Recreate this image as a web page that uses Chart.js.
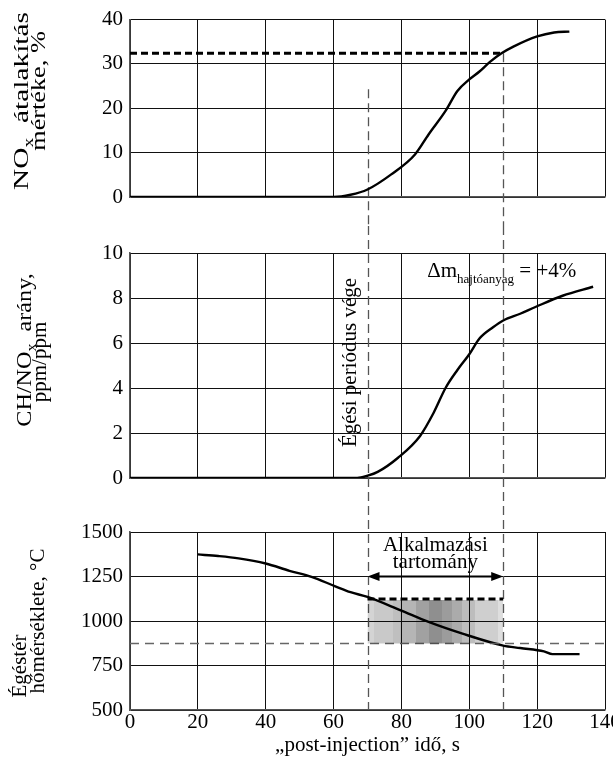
<!DOCTYPE html>
<html>
<head>
<meta charset="utf-8">
<script src="https://cdn.jsdelivr.net/npm/chart.js@4"></script>
<style>
  html, body { margin: 0; padding: 0; background: #fff; overflow: hidden; width: 613px; height: 764px; }
  #wrap { position: relative; width: 613px; height: 764px; overflow: hidden; }
  canvas { position: absolute; left: 0; }
</style>
</head>
<body>
<div id="wrap">
  <canvas id="nox" width="640" height="226" style="top:0"></canvas>
  <canvas id="ratio" width="640" height="280" style="top:226px"></canvas>
  <canvas id="temp" width="640" height="258" style="top:506px"></canvas>
</div>
<script>
// shared x axis
var timeTicks = [0, 20, 40, 60, 80, 100, 120, 140];
var combustionEnd = 70;      // "Égési periódus vége"
var rangeEnd = 110;          // end of "Alkalmazási tartomány"

// NOx conversion, %
var noxTicks = [0, 10, 20, 30, 40];
var noxTime = [0, 60, 65, 70, 77, 84, 88, 93, 96.5, 100, 103, 106, 109.5, 113, 120, 125, 129.5];
var noxConv = [0, 0, 0.5, 1.7, 5.1, 9.6, 14.1, 19.4, 23.9, 26.5, 28.3, 30.4, 32.4, 33.9, 36.2, 37.1, 37.3];
var noxTarget = 32.4;
var noxGuideTop = 24.3;

// CH/NOx ratio, ppm/ppm
var ratioTicks = [0, 2, 4, 6, 8, 10];
var ratioTime = [0, 67, 70, 73, 79, 85.5, 89.5, 93, 96.5, 100, 103, 107, 110, 115, 119.5, 127.5, 136.5];
var ratioVal = [0, 0, 0.1, 0.27, 0.9, 1.87, 2.9, 4.0, 4.8, 5.5, 6.2, 6.7, 7.0, 7.3, 7.6, 8.1, 8.5];

// combustion chamber temperature, °C
var tempTicks = [500, 750, 1000, 1250, 1500];
var tempTime = [20, 26, 32, 40, 47, 53.5, 60.5, 65, 70, 80, 88, 98, 110, 115, 122, 124.5, 132.5];
var tempVal = [1374, 1365, 1352, 1323, 1282, 1248, 1195, 1162, 1135, 1058, 995, 929, 862, 848, 829, 814, 814];
var windowTop = 1124;
var windowLow = 873;
var arrowLevel = 1250;

var SERIF = '"Liberation Serif", "Times New Roman", serif';

function pts(xs, ys) {
  return xs.map(function (x, i) { return { x: x, y: ys[i] }; });
}

// parts: [text, size, baseline shift]; stretch widens the text along its direction
function richText(ctx, parts, x, y, rotated, stretch) {
  ctx.save();
  ctx.translate(x, y);
  if (rotated) ctx.rotate(-Math.PI / 2);
  if (stretch) ctx.scale(stretch, 1);
  ctx.textBaseline = 'alphabetic';
  ctx.textAlign = 'left';
  ctx.fillStyle = '#000';
  var total = 0;
  parts.forEach(function (p) {
    ctx.font = p[1] + 'px ' + SERIF;
    total += ctx.measureText(p[0]).width;
  });
  var cur = -total / 2;
  parts.forEach(function (p) {
    ctx.font = p[1] + 'px ' + SERIF;
    ctx.fillText(p[0], cur, p[2] || 0);
    cur += ctx.measureText(p[0]).width;
  });
  ctx.restore();
}

function vDash(chart, value, yFrom, yTo) {
  var ctx = chart.ctx, x = Math.round(chart.scales.x.getPixelForValue(value)) + 0.5;
  ctx.save();
  ctx.strokeStyle = '#555';
  ctx.lineWidth = 1.3;
  ctx.setLineDash([9, 5]);
  ctx.beginPath();
  ctx.moveTo(x, yFrom);
  ctx.lineTo(x, yTo);
  ctx.stroke();
  ctx.restore();
}

function scalesFor(yTicks, showX) {
  return {
    x: {
      type: 'linear', min: 0, max: 140,
      afterBuildTicks: function (s) { s.ticks = timeTicks.map(function (v) { return { value: v }; }); },
      afterFit: function (s) { s.height = showX ? 54 : 0; },
      grid: { color: '#111', lineWidth: 1, drawTicks: false },
      border: { display: true, color: '#555', width: 1.6 },
      ticks: {
        display: showX, padding: 0, color: '#000', font: { family: SERIF, size: 21 },
        callback: function (v) { return String(v); }
      },
      title: {
        display: showX, text: '\u201Epost-injection\u201D id\u0151, s', color: '#000',
        font: { family: SERIF, size: 21 }, padding: { top: 0, bottom: 6 }
      }
    },
    y: {
      type: 'linear', min: yTicks[0], max: yTicks[yTicks.length - 1],
      afterBuildTicks: function (s) { s.ticks = yTicks.map(function (v) { return { value: v }; }); },
      afterFit: function (s) { s.width = 130; },
      grid: { color: '#111', lineWidth: 1, drawTicks: false },
      border: { display: true, color: '#555', width: 1.6 },
      ticks: {
        padding: 7, color: '#000', font: { family: SERIF, size: 21 },
        callback: function (v) { return String(v); }
      }
    }
  };
}

function curve(data) {
  return {
    data: data, borderColor: '#000', borderWidth: 2.4, pointRadius: 0,
    cubicInterpolationMode: 'monotone', fill: false
  };
}

function baseOptions(yTicks, showX, pad) {
  return {
    responsive: false,
    animation: false,
    layout: { padding: pad },
    plugins: { legend: { display: false }, tooltip: { enabled: false } },
    scales: scalesFor(yTicks, showX)
  };
}

// ---- panel 1: NOx conversion
new Chart(document.getElementById('nox').getContext('2d'), {
  type: 'line',
  data: {
    datasets: [
      curve(pts(noxTime, noxConv)),
      {
        data: [{ x: 0, y: noxTarget }, { x: rangeEnd, y: noxTarget }],
        borderColor: '#000', borderWidth: 3, borderDash: [7, 4], pointRadius: 0, fill: false
      }
    ]
  },
  options: baseOptions(noxTicks, false, { left: 0, right: 35, top: 18, bottom: 29 }),
  plugins: [{
    id: 'noxDecor',
    beforeDatasetsDraw: function (chart) {
      var y = chart.scales.y;
      vDash(chart, combustionEnd, y.getPixelForValue(noxGuideTop), chart.height);
      vDash(chart, rangeEnd, y.getPixelForValue(noxTarget), chart.height);
    },
    afterDraw: function (chart) {
      var ctx = chart.ctx;
      richText(ctx, [['NO', 21], ['x', 14, 5], ['  \u00E1talak\u00EDt\u00E1s', 21]], 28, 101, true, 1.4);
      richText(ctx, [['m\u00E9rt\u00E9ke, %', 21]], 45, 91, true, 1.25);
    }
  }]
});

// ---- panel 2: CH/NOx ratio
new Chart(document.getElementById('ratio').getContext('2d'), {
  type: 'line',
  data: { datasets: [curve(pts(ratioTime, ratioVal))] },
  options: baseOptions(ratioTicks, false, { left: 0, right: 35, top: 27, bottom: 28 }),
  plugins: [{
    id: 'ratioDecor',
    beforeDatasetsDraw: function (chart) {
      vDash(chart, combustionEnd, 0, chart.height);
      vDash(chart, rangeEnd, 0, chart.height);
    },
    afterDraw: function (chart) {
      var ctx = chart.ctx;
      richText(ctx, [['CH/NO', 21], ['x', 14, 5], ['  ar\u00E1ny,', 21]], 31, 124, true, 1.15);
      richText(ctx, [['ppm/ppm', 21]], 45.5, 136, true);
      richText(ctx, [['\u00C9g\u00E9si peri\u00F3dus v\u00E9ge', 21]], 356, 136.5, true);
      richText(ctx, [['\u0394m', 21], ['hajt\u00F3anyag', 13, 6.5], [' = +4%', 21]], 501.7, 50.7, false);
    }
  }]
});

// ---- panel 3: combustion chamber temperature
var bandStops = [0, 0.045, 0.19, 0.24, 0.36, 0.45, 0.55, 0.62, 0.695, 0.79, 0.965, 1];
var bandAlpha = [0.17, 0.21, 0.25, 0.29, 0.37, 0.44, 0.39, 0.33, 0.26, 0.19, 0.13];

function bandFill(context) {
  var chart = context.chart;
  if (!chart.chartArea) return 'rgba(0,0,0,0.25)';
  var xs = chart.scales.x;
  var x0 = xs.getPixelForValue(combustionEnd), x1 = xs.getPixelForValue(rangeEnd);
  var g = chart.ctx.createLinearGradient(x0, 0, x1, 0);
  for (var i = 0; i < bandAlpha.length; i++) {
    var c = 'rgba(0,0,0,' + bandAlpha[i] + ')';
    g.addColorStop(bandStops[i], c);
    g.addColorStop(bandStops[i + 1], c);
  }
  return g;
}

new Chart(document.getElementById('temp').getContext('2d'), {
  type: 'line',
  data: {
    datasets: [
      {
        data: [{ x: combustionEnd, y: windowTop - 6 }, { x: rangeEnd, y: windowTop - 6 }],
        borderWidth: 0, pointRadius: 0, fill: { value: windowLow }, backgroundColor: bandFill
      },
      {
        data: [{ x: 0, y: windowLow }, { x: 140, y: windowLow }],
        borderColor: '#666', borderWidth: 1.5, borderDash: [9, 6], pointRadius: 0, fill: false
      },
      {
        data: [{ x: combustionEnd, y: windowTop }, { x: rangeEnd, y: windowTop }],
        borderColor: '#000', borderWidth: 3, borderDash: [7, 4], pointRadius: 0, fill: false
      },
      curve(pts(tempTime, tempVal))
    ]
  },
  options: baseOptions(tempTicks, true, { left: 0, right: 35, top: 26, bottom: 0 }),
  plugins: [{
    id: 'tempDecor',
    beforeDatasetsDraw: function (chart) {
      vDash(chart, combustionEnd, 0, chart.chartArea.bottom);
      vDash(chart, rangeEnd, 0, chart.chartArea.bottom);
    },
    afterDraw: function (chart) {
      var ctx = chart.ctx, xs = chart.scales.x, ys = chart.scales.y;
      var x0 = xs.getPixelForValue(combustionEnd), x1 = xs.getPixelForValue(rangeEnd);
      var ya = ys.getPixelForValue(arrowLevel);
      ctx.save();
      ctx.strokeStyle = '#000';
      ctx.fillStyle = '#000';
      ctx.lineWidth = 1.8;
      ctx.beginPath();
      ctx.moveTo(x0 + 10, ya);
      ctx.lineTo(x1 - 10, ya);
      ctx.stroke();
      ctx.beginPath();
      ctx.moveTo(x0, ya); ctx.lineTo(x0 + 12, ya - 4.5); ctx.lineTo(x0 + 12, ya + 4.5); ctx.closePath();
      ctx.moveTo(x1, ya); ctx.lineTo(x1 - 12, ya - 4.5); ctx.lineTo(x1 - 12, ya + 4.5); ctx.closePath();
      ctx.fill();
      ctx.restore();
      var cx = (x0 + x1) / 2;
      richText(ctx, [['Alkalmaz\u00E1si', 21]], cx, 45, false);
      richText(ctx, [['tartom\u00E1ny', 21]], cx, 62, false);
      richText(ctx, [['\u00C9g\u00E9st\u00E9r', 21]], 26.4, 160, true);
      richText(ctx, [['h\u0151m\u00E9rs\u00E9klete, \u00B0C', 21]], 44, 115, true);
    }
  }]
});
</script>
</body>
</html>
